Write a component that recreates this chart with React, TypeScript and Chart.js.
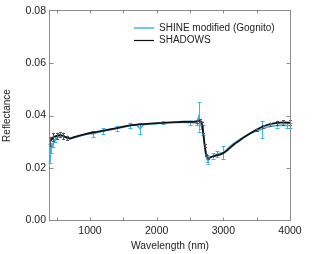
import React, { useEffect, useRef } from "react";
import { Chart, registerables } from "chart.js";
Chart.register(...registerables);

// ---- data ----
const shadowsWl = [400, 450, 500, 550, 600, 650, 700, 750, 800, 900, 1000, 1100, 1200, 1300, 1400, 1500, 1600, 1700, 1800, 1900, 2000, 2100, 2200, 2300, 2400, 2500, 2550, 2600, 2650, 2680, 2700, 2720, 2740, 2770, 2800, 2850, 2900, 2950, 3000, 3050, 3100, 3150, 3200, 3300, 3400, 3500, 3600, 3700, 3800, 3900, 4000];
const shadowsVal = [0.030, 0.0318, 0.0322, 0.0326, 0.0322, 0.0315, 0.0312, 0.0316, 0.032, 0.0327, 0.0333, 0.0337, 0.0342, 0.0347, 0.0352, 0.0357, 0.0362, 0.0365, 0.0367, 0.0369, 0.0371, 0.0372, 0.0374, 0.0375, 0.0376, 0.0376, 0.0376, 0.0378, 0.0381, 0.037, 0.033, 0.0285, 0.025, 0.0238, 0.024, 0.0244, 0.0247, 0.025, 0.0256, 0.0265, 0.0276, 0.0287, 0.0297, 0.0315, 0.0331, 0.0346, 0.0359, 0.0367, 0.0372, 0.0374, 0.0373];
const shadowsErr = [0.0018, 0.0015, 0.0012, 0.001, 0.0012, 0.0008, 0, 0, 0, 0, 0, 0, 0, 0, 0, 0, 0, 0, 0, 0, 0, 0, 0, 0, 0, 0, 0, 0.0005, 0.0006, 0.0005, 0.0004, 0.0004, 0.0004, 0.0003, 0, 0, 0, 0, 0, 0, 0, 0, 0, 0, 0, 0.0004, 0.0005, 0.0006, 0.0008, 0.0009, 0.001];

const shineWl = [400, 420, 450, 480, 520, 560, 600, 650, 700, 750, 800, 900, 1000, 1050, 1100, 1200, 1300, 1400, 1500, 1600, 1700, 1750, 1800, 1900, 2000, 2100, 2200, 2300, 2400, 2500, 2550, 2600, 2630, 2660, 2690, 2710, 2730, 2750, 2770, 2800, 2850, 2900, 2950, 3000, 3050, 3100, 3150, 3200, 3300, 3400, 3500, 3580, 3650, 3700, 3800, 3900, 3950, 4000];
const shineVal = [0.0255, 0.0275, 0.0295, 0.031, 0.0318, 0.0322, 0.0322, 0.0314, 0.031, 0.0314, 0.0318, 0.0325, 0.0331, 0.0329, 0.0334, 0.034, 0.0346, 0.035, 0.0355, 0.0362, 0.0364, 0.035, 0.0365, 0.0368, 0.0369, 0.0372, 0.0372, 0.0373, 0.0373, 0.0372, 0.0373, 0.037, 0.0395, 0.0365, 0.0345, 0.031, 0.027, 0.0235, 0.0228, 0.0238, 0.0245, 0.0252, 0.0255, 0.0258, 0.027, 0.0282, 0.0292, 0.0301, 0.0317, 0.0331, 0.0342, 0.0347, 0.0355, 0.0358, 0.0362, 0.0363, 0.0362, 0.0362];
const shineErr = [0.0035, 0.002, 0.0015, 0.001, 0, 0, 0, 0, 0, 0, 0, 0, 0, 0.0011, 0, 0.0011, 0, 0.0008, 0, 0.001, 0, 0.0022, 0, 0, 0, 0.0006, 0, 0, 0, 0.0008, 0, 0.0008, 0.0057, 0.0015, 0.002, 0, 0, 0.0012, 0.0012, 0, 0.001, 0.0012, 0, 0.0025, 0, 0, 0, 0, 0, 0, 0, 0.0033, 0, 0, 0.0008, 0, 0.001, 0.0008];

const xTicks = [1000, 2000, 3000, 4000];
const xTickMarks = [500, 1000, 1500, 2000, 2500, 3000, 3500];
const yTicks = [0, 0.02, 0.04, 0.06, 0.08];
const yTickMarks = [0.02, 0.04, 0.06];
const seriesNames = ["SHINE modified (Gognito)", "SHADOWS"];
const seriesColors = ["#3ab4ef", "#111111"];
const errColors = ["#3ab4ef", "#555555"];
const xTitle = "Wavelength (nm)";
const yTitle = "Reflectance";

const FONT = "'Liberation Sans', Arial, sans-serif";

const errorBarPlugin = {
  id: "errorBars",
  afterDatasetDraw(chart: any, args: any) {
    const ds: any = chart.data.datasets[args.index];
    if (!ds.err) return;
    const { ctx, scales } = chart;
    const xs = scales.x, ys = scales.y;
    ctx.save();
    ctx.strokeStyle = ds.errColor;
    ctx.lineWidth = 1;
    const cap = ds.capHalf;
    ds.data.forEach((p: any, i: number) => {
      const e = ds.err[i];
      if (!e) return;
      const px = Math.round(xs.getPixelForValue(p.x)) + 0.5;
      const y1 = ys.getPixelForValue(p.y - e);
      const y2 = ys.getPixelForValue(p.y + e);
      ctx.beginPath();
      ctx.moveTo(px, y1);
      ctx.lineTo(px, y2);
      ctx.moveTo(px - cap, Math.round(y1) + 0.5);
      ctx.lineTo(px + cap, Math.round(y1) + 0.5);
      ctx.moveTo(px - cap, Math.round(y2) + 0.5);
      ctx.lineTo(px + cap, Math.round(y2) + 0.5);
      ctx.stroke();
    });
    ctx.restore();
  },
};

const framePlugin = {
  id: "frame",
  afterDraw(chart: any) {
    const { ctx, chartArea: a, scales } = chart;
    ctx.save();
    ctx.strokeStyle = "#8c8c8c";
    ctx.lineWidth = 1;
    const L = Math.round(a.left) - 0.5, R = Math.round(a.right) + 0.5;
    const T = Math.round(a.top) - 0.5, B = Math.round(a.bottom) + 0.5;
    ctx.strokeRect(L, T, R - L, B - T);
    ctx.beginPath();
    xTickMarks.forEach((v) => {
      const px = Math.round(scales.x.getPixelForValue(v)) + 0.5;
      ctx.moveTo(px, T);
      ctx.lineTo(px, T + 3);
      ctx.moveTo(px, B);
      ctx.lineTo(px, B - 3);
    });
    yTickMarks.forEach((v) => {
      const py = Math.round(scales.y.getPixelForValue(v)) + 0.5;
      ctx.moveTo(L, py);
      ctx.lineTo(L + 4, py);
      ctx.moveTo(R, py);
      ctx.lineTo(R - 4, py);
    });
    ctx.stroke();

    // legend
    const rows = [28, 40.5];
    seriesNames.forEach((name, i) => {
      ctx.strokeStyle = seriesColors[i];
      ctx.lineWidth = i === 0 ? 1.5 : 1.2;
      ctx.beginPath();
      ctx.moveTo(134, rows[i]);
      ctx.lineTo(154, rows[i]);
      ctx.stroke();
      ctx.fillStyle = "#222";
      ctx.font = `10px ${FONT}`;
      ctx.textBaseline = "middle";
      ctx.textAlign = "left";
      ctx.fillText(name, 159, rows[i]);
    });
    ctx.restore();
  },
};

export default function App() {
  const ref = useRef<HTMLCanvasElement>(null);
  useEffect(() => {
    document.body.style.margin = "0";
    const canvas = ref.current!;
    const chart = new Chart(canvas, {
      type: "line",
      data: {
        datasets: [
          {
            label: seriesNames[0],
            data: shineWl.map((x, i) => ({ x, y: shineVal[i] })),
            borderColor: seriesColors[0],
            borderWidth: 1.6,
            pointRadius: 0,
            fill: false,
            tension: 0,
            order: 2,
            err: shineErr,
            errColor: errColors[0],
            capHalf: 2,
          } as any,
          {
            label: seriesNames[1],
            data: shadowsWl.map((x, i) => ({ x, y: shadowsVal[i] })),
            borderColor: seriesColors[1],
            borderWidth: 1.8,
            pointRadius: 0,
            fill: false,
            tension: 0,
            order: 1,
            err: shadowsErr,
            errColor: errColors[1],
            capHalf: 1.5,
          } as any,
        ],
      },
      options: {
        animation: false,
        responsive: false,
        devicePixelRatio: 1,
        layout: { padding: { top: 11, right: 26, left: 0, bottom: 0 } },
        plugins: { legend: { display: false }, tooltip: { enabled: false } },
        scales: {
          x: {
            type: "linear",
            min: 400,
            max: 4000,
            afterBuildTicks: (s: any) => {
              s.ticks = xTicks.map((v) => ({ value: v }));
            },
            afterFit: (s: any) => {
              s.height = 34;
            },
            ticks: {
              autoSkip: false,
              maxRotation: 0,
              padding: 5,
              color: "#222",
              font: { family: FONT, size: 10.5 },
              callback: (v: any) => String(v),
            },
            grid: { display: false, drawTicks: false },
            border: { display: false },
            title: {
              display: true,
              text: xTitle,
              color: "#222",
              font: { family: FONT, size: 10.3 },
              padding: { top: 0, bottom: 2 },
            },
          },
          y: {
            type: "linear",
            min: 0,
            max: 0.08,
            afterBuildTicks: (s: any) => {
              s.ticks = yTicks.map((v) => ({ value: v }));
            },
            afterFit: (s: any) => {
              s.width = 50;
            },
            ticks: {
              padding: 4,
              color: "#222",
              font: { family: FONT, size: 10.5 },
              callback: (v: any) => Number(v).toFixed(2),
            },
            grid: { display: false, drawTicks: false },
            border: { display: false },
            title: {
              display: true,
              text: yTitle,
              color: "#222",
              font: { family: FONT, size: 10 },
              padding: { top: 1, bottom: 0 },
            },
          },
        },
      } as any,
      plugins: [errorBarPlugin, framePlugin],
    });
    return () => chart.destroy();
  }, []);
  return (
    <div style={{ width: 316, height: 254, background: "#fff" }}>
      <canvas ref={ref} width={316} height={254} style={{ display: "block" }} />
    </div>
  );
}
